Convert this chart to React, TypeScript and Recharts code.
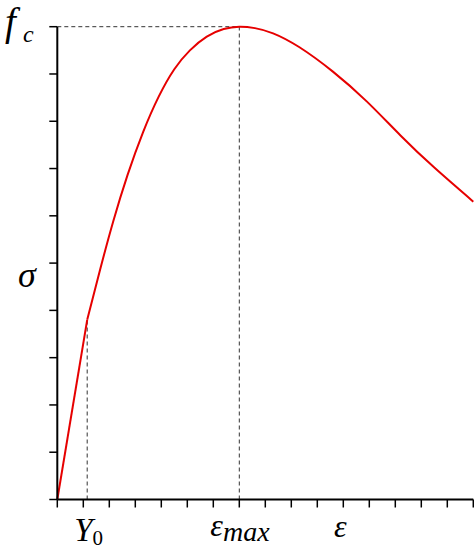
import { Line, LineChart, ReferenceLine, XAxis, YAxis } from "recharts";

// elastic part: straight from the origin up to Y0
const elasticStrain = [0, 1.15];
const elasticStress = [0, 3.8];

// rest of the curve (plot units: x 0..16, y 0..10)
const strain = [1.15, 1.65, 2.15, 2.7, 3.3, 3.9, 4.5, 5.1, 5.75, 6.4, 7, 7.6, 8.3, 9.3, 10.6, 11.9, 13.2, 14.5, 16];
const stress = [3.8, 4.87, 5.88, 6.86, 7.77, 8.52, 9.1, 9.5, 9.79, 9.95, 10, 9.97, 9.86, 9.57, 9.05, 8.42, 7.7, 7.02, 6.3];

const Y0 = 1.15;
const Y0_STRESS = 3.8;
const EPS_MAX = 7;
const FC = 10;

const xTicks = [0, 1, 2, 3, 4, 5, 6, 7, 8, 9, 10, 11, 12, 13, 14, 15, 16];
const yTicks = [0, 1, 2, 3, 4, 5, 6, 7, 8, 9, 10];

// math labels placed along the axes
const xLabelAt = [Y0, EPS_MAX, 11];
const yLabelAt = [FC, 4.7];

const elasticData = elasticStrain.map((e, i) => ({ e, s: elasticStress[i] }));
const curveData = strain.map((e, i) => ({ e, s: stress[i] }));

const serif = "'Liberation Serif', 'DejaVu Serif', serif";

function XTick({ x, y, payload }: any) {
  const v = payload.value;
  return (
    <g>
      {xTicks.includes(v) && <line x1={x} x2={x} y1={y} y2={y + 8} stroke="#000" strokeWidth={1.5} />}
      {v === Y0 && (
        <text x={x - 13} y={y + 41} fontFamily={serif} fontStyle="italic" fontSize={33} fill="#000">
          Y
          <tspan fontStyle="normal" fontSize={21} dy={4}>0</tspan>
        </text>
      )}
      {v === EPS_MAX && (
        <text x={x - 29} y={y + 36} fontFamily={serif} fontStyle="italic" fontSize={32} fill="#000">
          ε
          <tspan fontSize={28} dy={5}>max</tspan>
        </text>
      )}
      {v === 11 && (
        <text x={x - 3} y={y + 37.5} textAnchor="middle" fontFamily={serif} fontStyle="italic" fontSize={32} fill="#000">
          ε
        </text>
      )}
    </g>
  );
}

function YTick({ x, y, payload }: any) {
  const v = payload.value;
  return (
    <g>
      {yTicks.includes(v) && <line x1={x - 8} x2={x} y1={y} y2={y} stroke="#000" strokeWidth={1.5} />}
      {v === FC && (
        <g fontFamily={serif} fontStyle="italic" fill="#000">
          <text x={x - 52.3} y={y + 8} fontSize={39}>f</text>
          <text x={x - 34.3} y={y + 15.3} fontSize={24}>c</text>
        </g>
      )}
      {v === 4.7 && (
        <text x={x - 30.3} y={y + 10} textAnchor="middle" fontFamily={serif} fontStyle="italic" fontSize={36} fill="#000">
          σ
        </text>
      )}
    </g>
  );
}

export default function App() {
  return (
    <div style={{ position: "absolute", left: 0, top: 0, background: "#fff" }}>
      <LineChart width={474} height={554} margin={{ top: 26.7, right: 0.7, bottom: 0, left: 0 }}>
        <XAxis
          dataKey="e"
          type="number"
          domain={[0, 16]}
          ticks={[...xTicks, ...xLabelAt.filter((t) => !xTicks.includes(t))]}
          interval={0}
          height={54.5}
          tickSize={0}
          tickMargin={0}
          tickLine={false}
          axisLine={{ stroke: "#000", strokeWidth: 2 }}
          tick={<XTick />}
        />
        <YAxis
          type="number"
          domain={[0, 10]}
          ticks={[...yTicks, ...yLabelAt.filter((t) => !yTicks.includes(t))]}
          interval={0}
          width={57.3}
          tickSize={0}
          tickMargin={0}
          tickLine={false}
          axisLine={{ stroke: "#000", strokeWidth: 2 }}
          tick={<YTick />}
        />
        <ReferenceLine segment={[{ x: 0, y: FC }, { x: EPS_MAX, y: FC }]} stroke="#333" strokeDasharray="4 3" />
        <ReferenceLine segment={[{ x: EPS_MAX, y: 0 }, { x: EPS_MAX, y: FC }]} stroke="#333" strokeDasharray="4 3" />
        <ReferenceLine segment={[{ x: Y0, y: 0 }, { x: Y0, y: Y0_STRESS }]} stroke="#333" strokeDasharray="4 3" />
        <Line
          data={elasticData}
          dataKey="s"
          type="linear"
          stroke="#e60000"
          strokeWidth={2}
          dot={false}
          isAnimationActive={false}
        />
        <Line
          data={curveData}
          dataKey="s"
          type="natural"
          stroke="#e60000"
          strokeWidth={2}
          dot={false}
          isAnimationActive={false}
        />
      </LineChart>
    </div>
  );
}
